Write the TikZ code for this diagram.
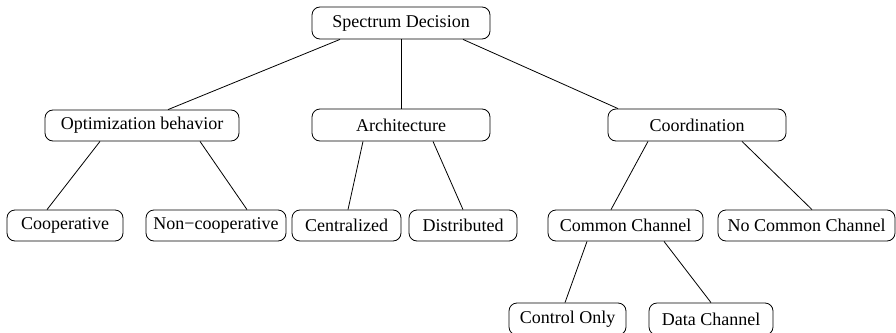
\documentclass[tikz,border=0pt]{standalone}
\usepackage{fontspec}
\setmainfont{Liberation Serif}
\begin{document}
\begin{tikzpicture}[x=1pt,y=-1pt,
  box/.style={draw, rounded corners=8pt, line width=0.8pt, inner sep=0pt,
    minimum height=32pt, font=\fontsize{18}{22}\selectfont},
  link/.style={line width=0.8pt}]
\useasboundingbox (0,0) rectangle (896,332);
\clip (0,0) rectangle (896,332);

% level 0
\node[box, minimum width=178pt] (sd) at (401,23) {Spectrum Decision};
% level 1
\node[box, minimum width=194pt, minimum height=31pt] (opt) at (142,125.5) {Optimization behavior};
\node[box, minimum width=178pt] (arch) at (401,125) {Architecture};
\node[box, minimum width=178pt] (coord) at (697,125) {Coordination};
% level 2
\node[box, minimum width=116pt, minimum height=31pt] (coop) at (65,225.5) {Cooperative};
\node[box, minimum width=140pt, minimum height=31pt] (noncoop) at (216,225.5) {Non−cooperative};
\node[box, minimum width=109pt, minimum height=31pt] (cent) at (346.5,225.5) {Centralized};
\node[box, minimum width=108pt, minimum height=31pt] (dist) at (463,225.5) {Distributed};
\node[box, minimum width=155pt, minimum height=31pt] (common) at (625.5,225.5) {Common Channel};
\node[box, minimum width=177pt, minimum height=31pt] (nocommon) at (806.5,225.5) {No Common Channel};
% level 3
\node[box, minimum width=117pt] (ctrl) at (567.5,319) {Control Only};
\node[box, minimum width=124pt] (data) at (711,319) {Data Channel};

% connectors
\draw[link] ([xshift=-61pt]sd.south) -- ([xshift=26pt]opt.north);
\draw[link] (sd.south) -- (arch.north);
\draw[link] ([xshift=62pt]sd.south) -- ([xshift=-79pt]coord.north);

\draw[link] ([xshift=-42pt]opt.south) -- ([xshift=-18pt]coop.north);
\draw[link] ([xshift=58pt]opt.south) -- ([xshift=31pt]noncoop.north);

\draw[link] ([xshift=-38pt]arch.south) -- ([xshift=1.5pt]cent.north);
\draw[link] ([xshift=32pt]arch.south) -- (dist.north);

\draw[link] ([xshift=-49pt]coord.south) -- ([xshift=-14.5pt]common.north);
\draw[link] ([xshift=45pt]coord.south) -- ([xshift=5.5pt]nocommon.north);

\draw[link] ([xshift=-38.5pt]common.south) -- ([xshift=-2.5pt]ctrl.north);
\draw[link] ([xshift=38.5pt]common.south) -- (data.north);
\end{tikzpicture}
\end{document}
